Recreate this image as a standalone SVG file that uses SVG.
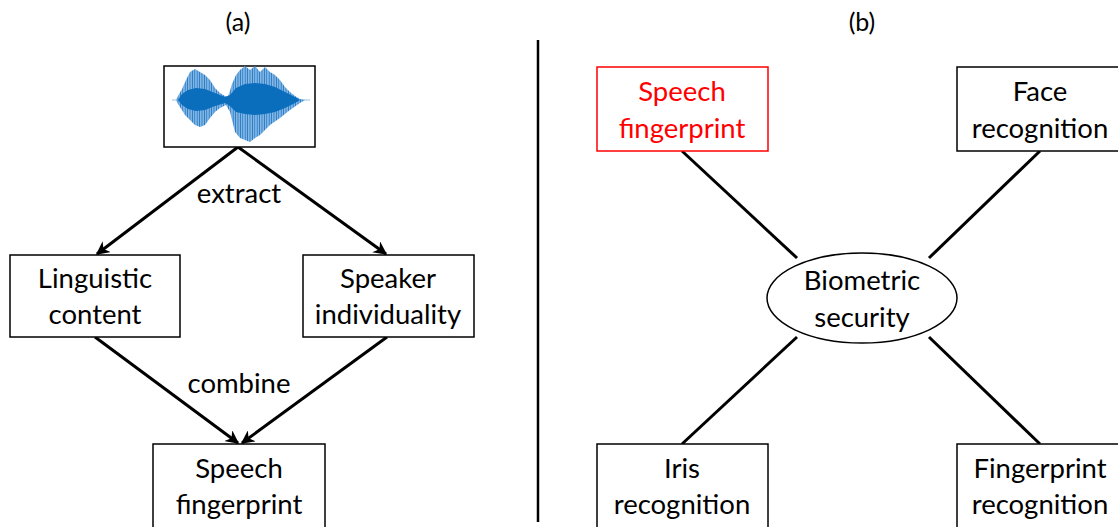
<svg xmlns="http://www.w3.org/2000/svg" width="1118" height="527" viewBox="0 0 1118 527">
  <style>
    .box { fill: #ffffff; stroke: #000000; stroke-width: 1.5; }
    .red { fill: #ffffff; stroke: #ff0000; stroke-width: 1.5; }
    .lbl { font-family: Lato, "Open Sans", "Liberation Sans", sans-serif; font-size: 27.5px; fill: #000000; text-anchor: middle; }
    .ttl { font-family: Lato, "Open Sans", "Liberation Sans", sans-serif; font-size: 25px; fill: #000000; text-anchor: middle; }
    .lblr { fill: #ff0000; }
    .edge { stroke: #000000; stroke-width: 3; fill: none; }
    .arrow { stroke: #000000; stroke-width: 3; fill: none; marker-end: url(#head); }
  </style>
  <defs>
    <marker id="head" viewBox="0 0 10 10" refX="9" refY="5" markerWidth="4.5" markerHeight="4.5" orient="auto" markerUnits="strokeWidth">
      <path d="M0,0 L10,5 L0,10 L3,5 Z" fill="#000000"/>
    </marker>
    <pattern id="stripes" width="2.4" height="10" patternUnits="userSpaceOnUse">
      <rect x="0" y="0" width="1.2" height="10" fill="#1f78c8"/>
      <rect x="1.2" y="0" width="1.2" height="10" fill="#7fb3e0"/>
    </pattern>
  </defs>

  <!-- panel titles -->
  <text class="ttl" x="238" y="31">(a)</text>
  <text class="ttl" x="862" y="31">(b)</text>

  <!-- panel divider -->
  <line x1="538" y1="40" x2="538" y2="522" stroke="#000" stroke-width="2.5"/>

  <g id="connectors">
    <line class="arrow" x1="238" y1="147" x2="97" y2="254"/>
    <line class="arrow" x1="238" y1="147" x2="386" y2="254"/>
    <line class="arrow" x1="95" y1="337" x2="238" y2="443"/>
    <line class="arrow" x1="387" y1="337" x2="242" y2="443"/>
    <line class="edge" x1="682" y1="151" x2="797" y2="258"/>
    <line class="edge" x1="1040" y1="151" x2="929" y2="258"/>
    <line class="edge" x1="797" y1="337" x2="682" y2="444"/>
    <line class="edge" x1="929" y1="337" x2="1040" y2="444"/>
    <text class="lbl" x="239" y="203">extract</text>
    <text class="lbl" x="239" y="393">combine</text>
  </g>

  <g id="waveform">
    <rect class="box" x="164" y="66" width="151" height="81"/>
    <line x1="172" y1="100" x2="310" y2="100" stroke="#9cc3e6" stroke-width="1"/>
    <path fill="url(#stripes)" d="M176,100 L178,96 182,89 186,80 190,72 195,69 200,72 205,75 210,80 215,88 220,93 225,96 228,97 232,84 236,75 240,70 245,66 250,70 255,66 260,72 265,67 270,72 275,75 280,80 285,87 290,92 295,96 300,99 305,100 L300,103 290,110 280,118 270,125 265,130 260,135 255,138 250,142 245,140 240,138 235,132 230,112 226,105 220,108 215,112 210,118 205,125 200,127 195,125 190,120 185,115 178,104 Z"/>
    <path fill="#0a6ebd" d="M178,100 L182,94 188,90 196,88 205,89 215,93 225,97 230,95 236,88 245,84 255,83 265,84 275,87 285,92 295,97 300,100 L295,103 285,108 275,112 265,114 255,115 245,114 236,112 230,106 225,103 215,106 205,110 196,111 188,109 182,105 Z"/>
  </g>

  <g id="linguistic">
    <rect class="box" x="10" y="255" width="170" height="82"/>
    <text class="lbl" x="95" y="288">Linguistic</text>
    <text class="lbl" x="95" y="324">content</text>
  </g>

  <g id="speaker">
    <rect class="box" x="303" y="255" width="171" height="82"/>
    <text class="lbl" x="388" y="288">Speaker</text>
    <text class="lbl" x="388" y="324">individuality</text>
  </g>

  <g id="fingerprint-a">
    <rect class="box" x="153" y="444" width="172" height="90"/>
    <text class="lbl" x="239" y="478">Speech</text>
    <text class="lbl" x="239" y="514">fingerprint</text>
  </g>

  <g id="speech-b">
    <rect class="red" x="597" y="67" width="171" height="84"/>
    <text class="lbl lblr" x="682" y="101">Speech</text>
    <text class="lbl lblr" x="682" y="138">fingerprint</text>
  </g>

  <g id="face">
    <rect class="box" x="957" y="67" width="170" height="84"/>
    <text class="lbl" x="1040" y="101">Face</text>
    <text class="lbl" x="1040" y="138">recognition</text>
  </g>

  <g id="biometric">
    <ellipse class="box" cx="862" cy="298" rx="95" ry="45"/>
    <text class="lbl" x="862" y="290">Biometric</text>
    <text class="lbl" x="862" y="327">security</text>
  </g>

  <g id="iris">
    <rect class="box" x="597" y="444" width="171" height="90"/>
    <text class="lbl" x="682" y="478">Iris</text>
    <text class="lbl" x="682" y="514">recognition</text>
  </g>

  <g id="fingerprint-b">
    <rect class="box" x="957" y="444" width="170" height="90"/>
    <text class="lbl" x="1040" y="478">Fingerprint</text>
    <text class="lbl" x="1040" y="514">recognition</text>
  </g>
</svg>
